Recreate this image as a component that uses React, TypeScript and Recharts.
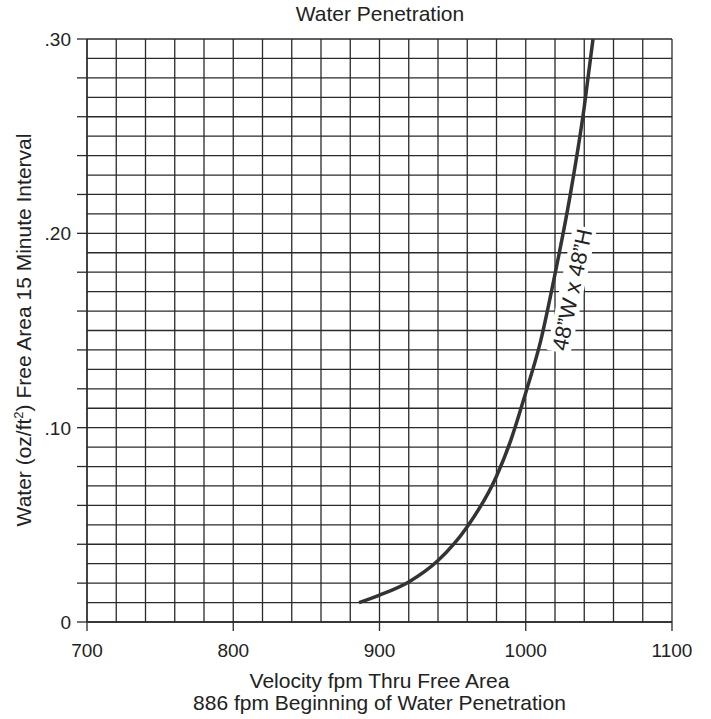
import React from "react";
import { LineChart, Line, XAxis, YAxis, CartesianGrid, ReferenceDot } from "recharts";

const velocity = [886, 900, 920, 940, 960, 980, 990, 1000, 1010, 1020, 1030, 1040, 1046];
const water = [0.01, 0.0138, 0.0206, 0.0316, 0.049, 0.075, 0.094, 0.118, 0.144, 0.179, 0.218, 0.265, 0.3];

const xTicks = [700, 720, 740, 760, 780, 800, 820, 840, 860, 880, 900, 920, 940, 960, 980, 1000, 1020, 1040, 1060, 1080, 1100];
const yTicks = [
  0, 0.01, 0.02, 0.03, 0.04, 0.05, 0.06, 0.07, 0.08, 0.09, 0.1, 0.11, 0.12, 0.13, 0.14, 0.15, 0.16, 0.17, 0.18, 0.19,
  0.2, 0.21, 0.22, 0.23, 0.24, 0.25, 0.26, 0.27, 0.28, 0.29, 0.3,
];
const xLabelValues = [700, 800, 900, 1000, 1100];
const xLabelTexts = ["700", "800", "900", "1000", "1100"];
const yLabelValues = [0, 0.1, 0.2, 0.3];
const yLabelTexts = ["0", ".10", ".20", ".30"];

const titleText = "Water Penetration";
const xTitle1 = "Velocity fpm Thru Free Area";
const xTitle2 = "886 fpm Beginning of Water Penetration";
const seriesLabel = "48\u201dW x 48\u201dH";

const rows = velocity.map((v, i) => ({ v, w: water[i] }));

const FONT = "'Liberation Sans', Arial, Helvetica, sans-serif";
const INK = "#2a2a2a";

const XTick = (props: any) => {
  const { x, y, payload } = props;
  const v = payload.value;
  const idx = xLabelValues.indexOf(v);
  return (
    <g>
      {idx >= 0 && <line x1={x} x2={x} y1={y} y2={y + 9} stroke={INK} strokeWidth={1.3} />}
      {idx >= 0 && (
        <text x={x} y={y + 35} textAnchor="middle" fontSize={19} fontFamily={FONT} fill="#222">
          {xLabelTexts[idx]}
        </text>
      )}
    </g>
  );
};

const YTick = (props: any) => {
  const { x, y, payload } = props;
  const h = Math.round(payload.value * 100);
  const idx = yLabelValues.findIndex((q) => Math.round(q * 100) === h);
  return (
    <g>
      {h % 2 === 0 && <line x1={x - 10} x2={x} y1={y} y2={y} stroke={INK} strokeWidth={1.3} />}
      {idx >= 0 && (
        <text x={x - 16} y={y + 7} textAnchor="end" fontSize={19} fontFamily={FONT} fill="#222">
          {yLabelTexts[idx]}
        </text>
      )}
    </g>
  );
};

const SeriesLabelShape = (props: any) => {
  const { cx, cy } = props;
  return (
    <g transform={`translate(${cx},${cy}) rotate(-78)`}>
      <rect x={-64} y={-12} width={128} height={24} fill="#fff" />
      <text x={0} y={0} dy="0.36em" textAnchor="middle" fontSize={22} fontFamily={FONT} fill="#222">
        {seriesLabel}
      </text>
    </g>
  );
};

const XTitle = (props: any) => {
  const vb = props.viewBox || {};
  const cx = vb.x + vb.width / 2;
  return (
    <g>
      <text x={cx} y={688} textAnchor="middle" fontSize={21} fontFamily={FONT} fill="#222">
        {xTitle1}
      </text>
      <text x={cx} y={710} textAnchor="middle" fontSize={21} fontFamily={FONT} fill="#222">
        {xTitle2}
      </text>
    </g>
  );
};

const YTitle = () => (
  <text
    x={0}
    y={0}
    transform="translate(31,330) rotate(-90)"
    textAnchor="middle"
    fontSize={21}
    fontFamily={FONT}
    fill="#222"
  >
    Water (oz/ft<tspan fontSize={13} dy={-8}>2</tspan>
    <tspan dy={8}>) Free Area 15 Minute Interval</tspan>
  </text>
);

export default function App() {
  return (
    <div style={{ position: "absolute", left: 0, top: 0, width: 711, height: 719, background: "#fff" }}>
      <LineChart width={711} height={719} data={rows} margin={{ top: 39, right: 39, bottom: 57, left: 27 }}>
        <CartesianGrid stroke={INK} strokeWidth={1.3} />
        <XAxis
          type="number"
          dataKey="v"
          domain={[700, 1100]}
          ticks={xTicks}
          interval={0}
          tickSize={0}
          tickMargin={0}
          tickLine={false}
          tick={<XTick />}
          axisLine={{ stroke: INK, strokeWidth: 1.3 }}
          height={40}
          label={<XTitle />}
        />
        <YAxis
          type="number"
          domain={[0, 0.3]}
          ticks={yTicks}
          interval={0}
          tickSize={0}
          tickMargin={0}
          tickLine={false}
          tick={<YTick />}
          axisLine={{ stroke: INK, strokeWidth: 1.3 }}
          width={60}
          label={<YTitle />}
        />
        <Line
          dataKey="w"
          type="monotone"
          stroke="#333"
          strokeWidth={3.5}
          dot={false}
          isAnimationActive={false}
        />
        <ReferenceDot x={1031.5} y={0.171} r={0} shape={<SeriesLabelShape />} ifOverflow="visible" />
      </LineChart>
      <svg width={711} height={40} style={{ position: "absolute", left: 0, top: 0 }}>
        <text x={380} y={21} textAnchor="middle" fontSize={21} fontFamily={FONT} fill="#222">
          {titleText}
        </text>
      </svg>
    </div>
  );
}
